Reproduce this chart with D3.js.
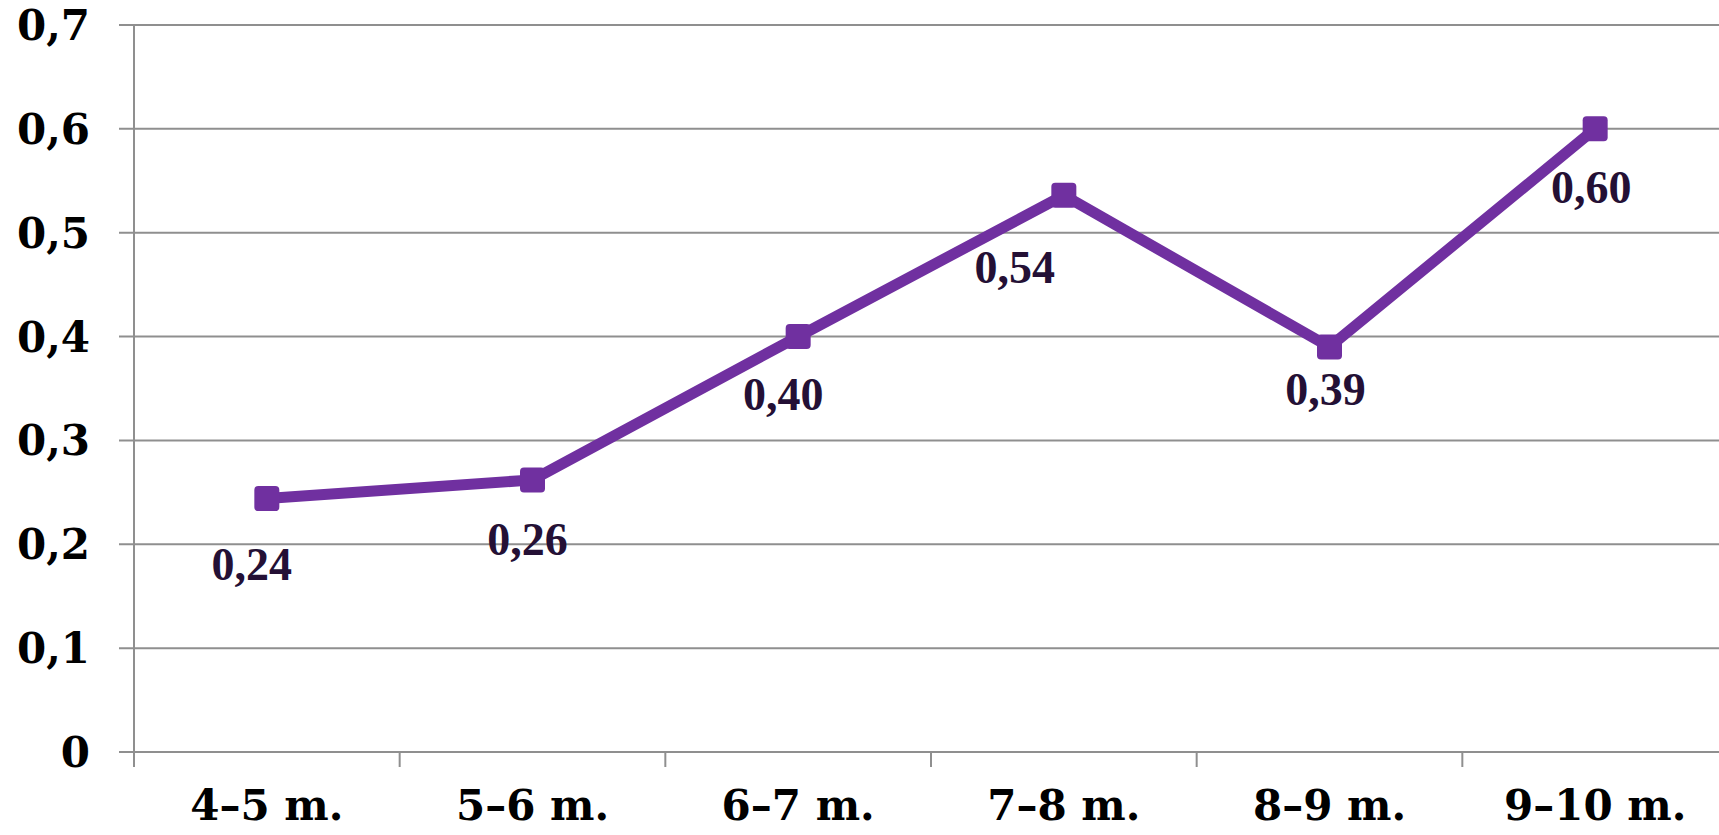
<!DOCTYPE html>
<html>
<head>
<meta charset="utf-8">
<script src="https://cdn.jsdelivr.net/npm/d3@7"></script>
<style>
html,body{margin:0;padding:0;background:#fff;overflow:hidden;}
svg{display:block;}
</style>
</head>
<body>
<svg id="chart" width="1719" height="835"></svg>
<script>
// ---- data ----
const categories = ["4–5 m.", "5–6 m.", "6–7 m.", "7–8 m.", "8–9 m.", "9–10 m."];
const values = [0.244, 0.262, 0.40, 0.536, 0.39, 0.60];
const yTicks = [0, 0.1, 0.2, 0.3, 0.4, 0.5, 0.6, 0.7];
const yTickLabels = ["0", "0,1", "0,2", "0,3", "0,4", "0,5", "0,6", "0,7"];
// manual label nudges (layout, px)
const labelDx = [-15, -5, -15, -49, -4, -4];
const labelDy = [81, 75, 73, 88, 58, 74];

(function () {
  // ---- layout ----
  const W = 1719, H = 835;
  const mLeft = 134, mRight = 1728, mTop = 25, mBottom = 752;
  const svg = d3.select("#chart");

  const x = d3.scaleBand().domain(categories).range([mLeft, mRight]).padding(0);
  const y = d3.scaleLinear().domain([0, 0.7]).range([mBottom, mTop]);

  const gridColor = "#8f8f8f";
  const fontAxis = "'DejaVu Serif', serif";

  // gridlines
  svg.append("g").selectAll("line").data(yTicks).join("line")
    .attr("x1", mLeft - 15).attr("x2", W)
    .attr("y1", d => y(d)).attr("y2", d => y(d))
    .attr("stroke", gridColor).attr("stroke-width", 2);

  // y axis line
  svg.append("line").attr("x1", mLeft).attr("x2", mLeft)
    .attr("y1", mTop).attr("y2", mBottom + 15)
    .attr("stroke", gridColor).attr("stroke-width", 2);

  // x tick marks at band boundaries
  const bounds = categories.map(c => x(c)).slice(1);
  svg.append("g").selectAll("line").data(bounds).join("line")
    .attr("x1", d => d).attr("x2", d => d)
    .attr("y1", mBottom).attr("y2", mBottom + 15)
    .attr("stroke", gridColor).attr("stroke-width", 2);

  // y tick labels
  svg.append("g").selectAll("text").data(yTicks).join("text")
    .attr("x", 90).attr("y", d => y(d) + 15)
    .attr("text-anchor", "end")
    .attr("font-family", fontAxis).attr("font-weight", "bold")
    .attr("font-size", 42).attr("fill", "#000")
    .text((d, i) => yTickLabels[i]);

  // x labels
  svg.append("g").selectAll("text").data(categories).join("text")
    .attr("x", d => x(d) + x.bandwidth() / 2).attr("y", 820)
    .attr("text-anchor", "middle")
    .attr("font-family", fontAxis).attr("font-weight", "bold")
    .attr("font-size", 42).attr("fill", "#000")
    .text(d => d);

  // line
  const cx = i => x(categories[i]) + x.bandwidth() / 2;
  const line = d3.line().x((d, i) => cx(i)).y(d => y(d));
  svg.append("path").datum(values)
    .attr("d", line)
    .attr("fill", "none").attr("stroke", "#7030A0")
    .attr("stroke-width", 11).attr("stroke-linejoin", "miter");

  // markers
  const ms = 25;
  svg.append("g").selectAll("rect").data(values).join("rect")
    .attr("x", (d, i) => cx(i) - ms / 2)
    .attr("y", d => y(d) - ms / 2)
    .attr("width", ms).attr("height", ms)
    .attr("rx", 4).attr("ry", 4)
    .attr("fill", "#7030A0");

  // data labels
  svg.append("g").selectAll("text").data(values).join("text")
    .attr("x", (d, i) => cx(i) + labelDx[i])
    .attr("y", (d, i) => y(d) + labelDy[i])
    .attr("text-anchor", "middle")
    .attr("font-family", "'Liberation Serif', 'Times New Roman', serif")
    .attr("font-weight", "bold").attr("font-size", 46)
    .attr("fill", "#241035")
    .text(d => d3.format(".2f")(d).replace(".", ","));
})();
</script>
</body>
</html>
